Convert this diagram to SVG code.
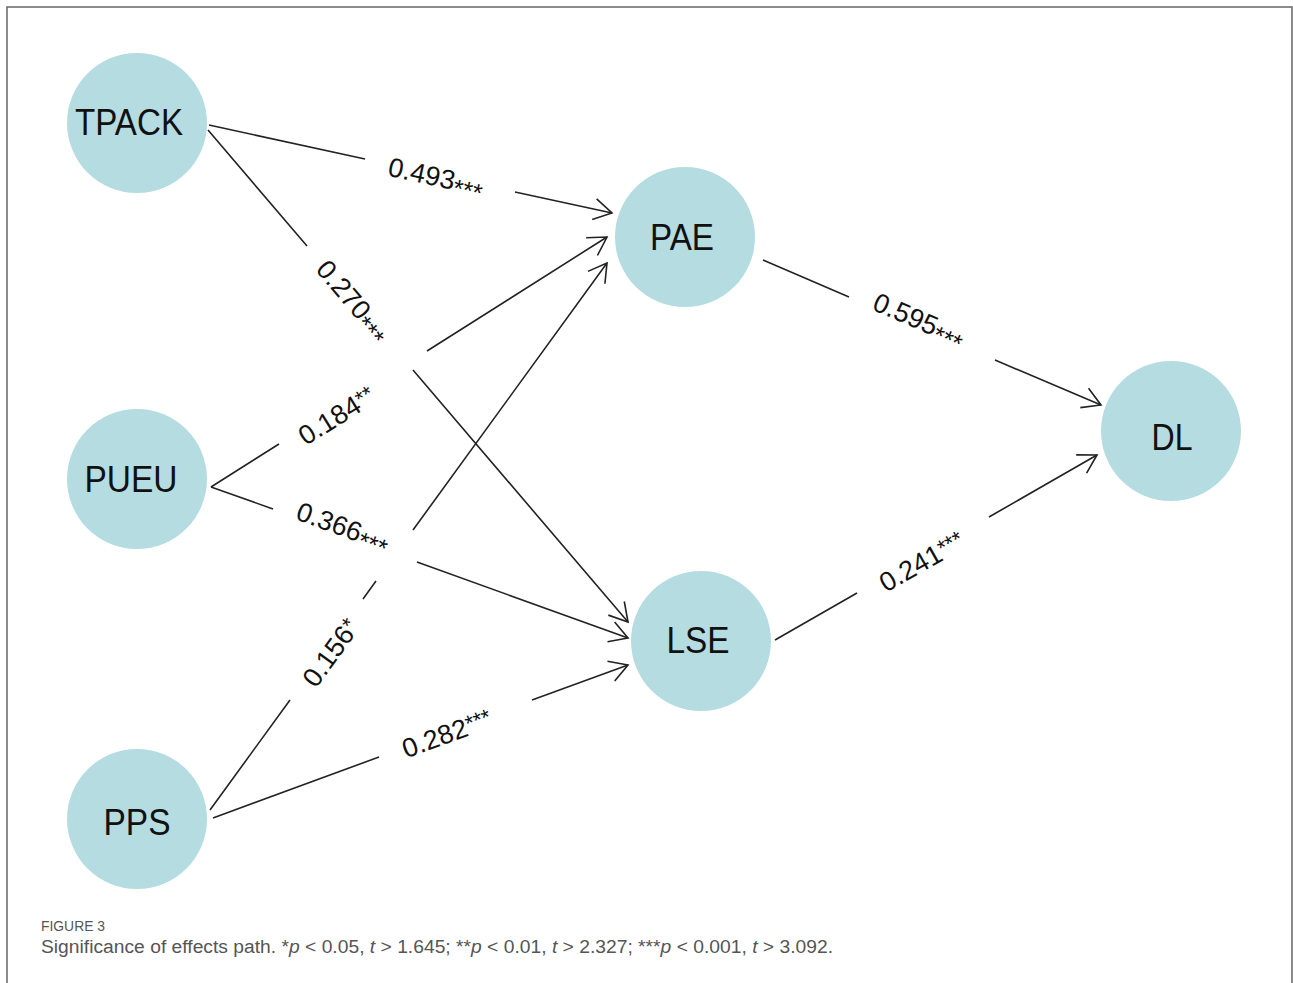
<svg xmlns="http://www.w3.org/2000/svg" width="1293" height="983" viewBox="0 0 1293 983">
<style>
.node circle{fill:#b4dce1;}
.node text{font-family:"Liberation Sans",Arial,sans-serif;font-size:36px;fill:#111;text-anchor:middle;}
.edge{fill:none;stroke:#222;stroke-width:1.6;}
.lbl{font-family:"Liberation Sans",Arial,sans-serif;font-size:27px;fill:#111;text-anchor:middle;}
.cap{font-family:"Liberation Sans",Arial,sans-serif;fill:#555;}
</style>
<defs>
<marker id="arr" markerUnits="userSpaceOnUse" markerWidth="26" markerHeight="26" viewBox="-22 -13 26 26" refX="0" refY="0" orient="auto">
<path d="M-18,-10.5 L0,0 L-18,10.5" fill="none" stroke="#222" stroke-width="1.6"/>
</marker>
</defs>
<rect x="7" y="7" width="1285" height="1000" fill="#fff" stroke="#666" stroke-width="1.5"/>
<g id="connectors">
<path class="edge" d="M209,125 L365,159 M515,192 L612,213" marker-end="url(#arr)"/>
<path class="edge" d="M208,130 L307,246 M413,370 L628,622" marker-end="url(#arr)"/>
<path class="edge" d="M211,487 L279,444 M427,351 L607,237" marker-end="url(#arr)"/>
<path class="edge" d="M211,487 L273,509 M417,562 L628,638" marker-end="url(#arr)"/>
<path class="edge" d="M210,810 L290,700 M363,599 L376,581 M413,530 L607,263" marker-end="url(#arr)"/>
<path class="edge" d="M213,818 L379,757 M532,700 L628,665" marker-end="url(#arr)"/>
<path class="edge" d="M763,260 L849,297 M995,360 L1101,405" marker-end="url(#arr)"/>
<path class="edge" d="M775,640 L857,593 M989,517 L1097,455" marker-end="url(#arr)"/>
<g id="edge-labels">
<text class="lbl" transform="translate(436,177) rotate(12.3)" y="9">0.493<tspan dy="6" font-size="25">***</tspan></text>
<text class="lbl" transform="translate(353,301) rotate(49.6)" y="9">0.270<tspan dy="6" font-size="25">***</tspan></text>
<text class="lbl" transform="translate(337,416) rotate(-32)" y="9">0.184<tspan dy="-4" font-size="22">**</tspan></text>
<text class="lbl" transform="translate(343,527) rotate(19.9)" y="9">0.366<tspan dy="6" font-size="25">***</tspan></text>
<text class="lbl" transform="translate(331,653) rotate(-54)" y="9">0.156<tspan dy="-4" font-size="22">*</tspan></text>
<text class="lbl" transform="translate(447,734) rotate(-20)" y="9">0.282<tspan dy="-4" font-size="22">***</tspan></text>
<text class="lbl" transform="translate(919,320) rotate(23.3)" y="9">0.595<tspan dy="6" font-size="25">***</tspan></text>
<text class="lbl" transform="translate(922,562) rotate(-29.6)" y="9">0.241<tspan dy="-4" font-size="22">***</tspan></text>
</g>
</g>
<g id="TPACK" class="node"><circle cx="137" cy="123" r="70"/><text x="129" y="135" textLength="108" lengthAdjust="spacingAndGlyphs">TPACK</text></g>
<g id="PUEU" class="node"><circle cx="137" cy="479" r="70"/><text x="131" y="492" textLength="93" lengthAdjust="spacingAndGlyphs">PUEU</text></g>
<g id="PPS" class="node"><circle cx="137" cy="819" r="70"/><text x="137" y="835" textLength="67" lengthAdjust="spacingAndGlyphs">PPS</text></g>
<g id="PAE" class="node"><circle cx="685" cy="237" r="70"/><text x="682" y="250" textLength="64" lengthAdjust="spacingAndGlyphs">PAE</text></g>
<g id="LSE" class="node"><circle cx="701" cy="641" r="70"/><text x="698" y="653" textLength="63" lengthAdjust="spacingAndGlyphs">LSE</text></g>
<g id="DL" class="node"><circle cx="1171" cy="431" r="70"/><text x="1172" y="450" textLength="41" lengthAdjust="spacingAndGlyphs">DL</text></g>
<g id="caption">
<text class="cap" x="41" y="931" font-size="15" textLength="64" lengthAdjust="spacingAndGlyphs">FIGURE 3</text>
<text class="cap" x="41" y="953" font-size="18" textLength="792" lengthAdjust="spacingAndGlyphs">Significance of effects path. *<tspan font-style="italic">p</tspan> &lt; 0.05, <tspan font-style="italic">t</tspan> &gt; 1.645; **<tspan font-style="italic">p</tspan> &lt; 0.01, <tspan font-style="italic">t</tspan> &gt; 2.327; ***<tspan font-style="italic">p</tspan> &lt; 0.001, <tspan font-style="italic">t</tspan> &gt; 3.092.</text>
</g>
</svg>
